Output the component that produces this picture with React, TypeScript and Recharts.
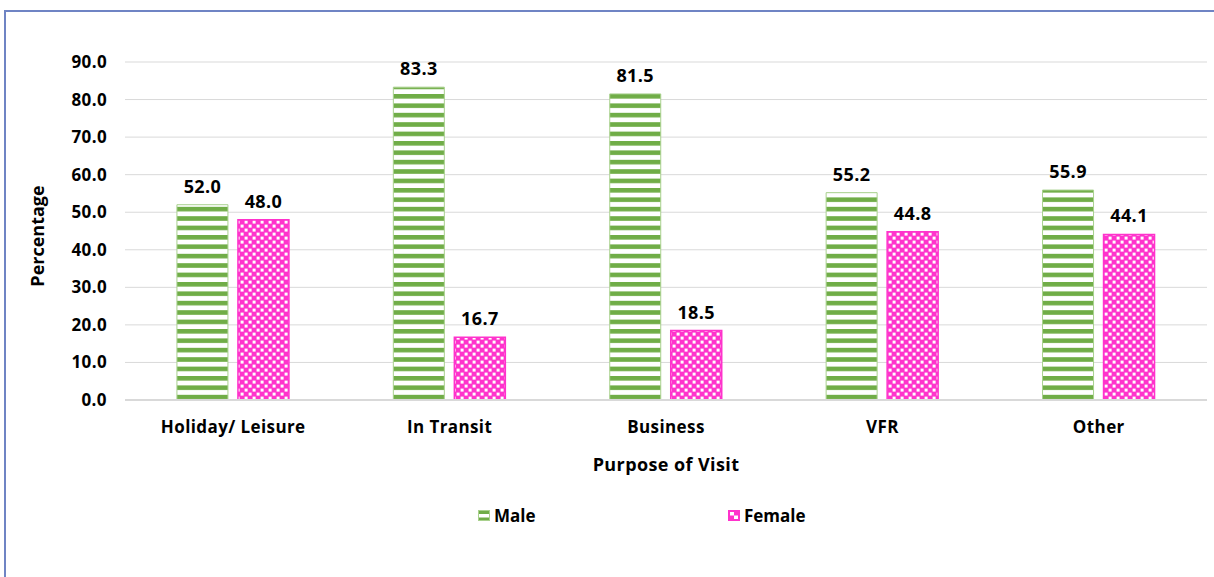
import { BarChart, Bar, XAxis, YAxis, CartesianGrid, LabelList } from "recharts";

const purposes = ["Holiday/ Leisure", "In Transit", "Business", "VFR", "Other"];
const male = [52.0, 83.3, 81.5, 55.2, 55.9];
const female = [48.0, 16.7, 18.5, 44.8, 44.1];
const yTicks = [0, 10, 20, 30, 40, 50, 60, 70, 80, 90];

const data = purposes.map((p, i) => ({ purpose: p, Male: male[i], Female: female[i] }));

const FONT = "'Open Sans', 'Noto Sans', sans-serif";
const GREEN = "#70ad47";
const PINK = "#ff33cc";

const fmt = (v: number) => Number(v).toFixed(1);

function Patterns() {
  return (
    <svg width={0} height={0} style={{ position: "absolute" }}>
      <defs>
        <pattern id="maleStripes" patternUnits="userSpaceOnUse" width={10} height={9.4}>
          <rect x={0} y={0} width={10} height={9.4} fill="#fff" />
          <rect x={0} y={0} width={10} height={4.6} fill={GREEN} />
        </pattern>
        <pattern id="femaleChecks" patternUnits="userSpaceOnUse" width={8} height={8}>
          <rect x={0} y={0} width={8} height={8} fill={PINK} />
          <rect x={0.6} y={0.6} width={3} height={3} fill="#fff" />
          <rect x={4.6} y={4.6} width={3} height={3} fill="#fff" />
        </pattern>
      </defs>
    </svg>
  );
}

function YLabel() {
  return (
    <text
      x={37}
      y={236}
      transform="rotate(-90 37 236)"
      textAnchor="middle"
      dominantBaseline="central"
      fontFamily={FONT}
      fontWeight={700}
      fontSize={18}
      fill="#000"
    >
      Percentage
    </text>
  );
}

const tickStyle = { fontFamily: FONT, fontWeight: 700, fontSize: 17, fill: "#000", letterSpacing: 0.4 };
const labelStyle = { fontFamily: FONT, fontWeight: 700, fontSize: 18, fill: "#000", letterSpacing: 0.4 };

export default function App() {
  return (
    <div
      style={{
        position: "absolute",
        left: 0,
        top: 0,
        width: 1214,
        height: 577,
        overflow: "hidden",
        background: "#fff",
        fontFamily: FONT,
      }}
    >
      <Patterns />
      <div
        style={{
          position: "absolute",
          left: 4,
          top: 10,
          width: 1400,
          height: 800,
          border: "2px solid #6f84c4",
        }}
      />
      <div style={{ position: "absolute", left: 0, top: 0 }}>
        <BarChart
          width={1214}
          height={577}
          data={data}
          margin={{ top: 62, right: 7, bottom: 97, left: 0 }}
          barCategoryGap="24%"
          barGap={10}
        >
          <CartesianGrid vertical={false} stroke="#d9d9d9" strokeWidth={1} />
          <XAxis
            dataKey="purpose"
            height={80}
            axisLine={{ stroke: "#d9d9d9", strokeWidth: 2 }}
            tickLine={false}
            tickMargin={15}
            tick={tickStyle}
            label={{
              value: "Purpose of Visit",
              position: "insideBottom",
              offset: 9,
              style: labelStyle,
            }}
          />
          <YAxis
            width={125}
            domain={[0, 90]}
            ticks={yTicks}
            interval={0}
            axisLine={false}
            tickLine={false}
            tickMargin={12}
            tickFormatter={fmt}
            tick={tickStyle}
            label={<YLabel />}
          />
          <Bar
            dataKey="Male"
            fill="url(#maleStripes)"
            stroke="#a9d18e"
            strokeWidth={1}
            isAnimationActive={false}
          >
            <LabelList
              dataKey="Male"
              position="top"
              offset={12}
              formatter={(v: any) => fmt(v)}
              style={labelStyle}
            />
          </Bar>
          <Bar
            dataKey="Female"
            fill="url(#femaleChecks)"
            stroke={PINK}
            strokeWidth={1.5}
            isAnimationActive={false}
          >
            <LabelList
              dataKey="Female"
              position="top"
              offset={12}
              formatter={(v: any) => fmt(v)}
              style={labelStyle}
            />
          </Bar>
        </BarChart>
      </div>
      <div
        style={{
          position: "absolute",
          top: 505,
          left: 0,
          width: 1214,
          height: 20,
          fontWeight: 700,
          fontSize: 17,
          color: "#000",
        }}
      >
        <div style={{ position: "absolute", left: 478, top: 0, display: "flex", alignItems: "center", height: 20 }}>
          <svg width={12} height={11} style={{ marginRight: 4 }}>
            <rect x={0.5} y={0.5} width={11} height={10} fill={GREEN} stroke="#a9d18e" />
            <rect x={1} y={4} width={10} height={3.5} fill="#fff" />
          </svg>
          <span>Male</span>
        </div>
        <div style={{ position: "absolute", left: 728, top: 0, display: "flex", alignItems: "center", height: 20 }}>
          <svg width={12} height={11} style={{ marginRight: 4 }}>
            <rect x={0} y={0} width={12} height={11} fill={PINK} />
            <rect x={2} y={2} width={4} height={3.5} fill="#fff" />
            <rect x={6} y={5.5} width={4} height={3.5} fill="#fff" />
          </svg>
          <span>Female</span>
        </div>
      </div>
    </div>
  );
}
